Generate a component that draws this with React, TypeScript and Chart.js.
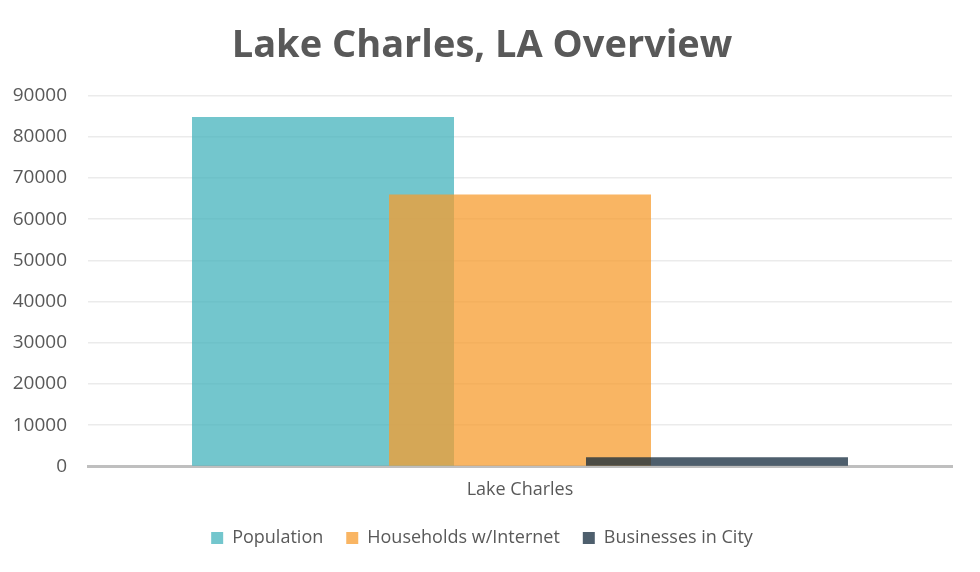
import React, { useEffect, useRef } from "react";
import { Chart, registerables } from "chart.js";

Chart.register(...registerables);

const categories = ["Lake Charles"];
const seriesNames = ["Population", "Households w/Internet", "Businesses in City"];
const population = [84800];
const households = [66000];
const businesses = [2250];
const yTicks = [0, 10000, 20000, 30000, 40000, 50000, 60000, 70000, 80000, 90000];

const FONT = "'Open Sans', 'DejaVu Sans', sans-serif";
const TEXT = "#595959";

const drawOrderPlugin = {
  id: "drawOrder",
  beforeDatasetsDraw(chart: any) {
    const ctx = chart.ctx;
    const a = chart.chartArea;
    ctx.save();
    ctx.beginPath();
    ctx.rect(a.left, a.top - 2, a.right - a.left, a.bottom - a.top + 2);
    ctx.clip();
    const metas = chart.getSortedVisibleDatasetMetas().slice().sort((m1: any, m2: any) => m1.index - m2.index);
    metas.forEach((m: any) => m.controller.draw());
    ctx.restore();
    return false;
  },
};

export default function App() {
  const ref = useRef<HTMLCanvasElement | null>(null);
  useEffect(() => {
    if (!ref.current) return;
    const chart = new Chart(ref.current, {
      type: "bar",
      data: {
        labels: categories,
        datasets: [
          { label: seriesNames[0], data: population, backgroundColor: "rgba(68,179,188,0.75)" },
          { label: seriesNames[1], data: households, backgroundColor: "rgba(247,156,47,0.75)" },
          { label: seriesNames[2], data: businesses, backgroundColor: "rgba(19,42,60,0.75)" },
        ],
      },
      options: {
        animation: false,
        responsive: true,
        maintainAspectRatio: false,
        layout: { padding: { left: 12, right: 28, top: 0, bottom: 15 } },
        datasets: {
          bar: { categoryPercentage: 0.684, barPercentage: 1.33 },
        },
        plugins: {
          title: {
            display: true,
            text: "Lake Charles, LA Overview",
            color: TEXT,
            font: { family: FONT, size: 38, weight: "bold" },
            padding: { top: 23, bottom: 27 },
          },
          legend: {
            position: "bottom",
            labels: {
              color: TEXT,
              font: { family: FONT, size: 18 },
              boxWidth: 12,
              boxHeight: 12,
              padding: 23,
            },
          },
          tooltip: { enabled: false },
        },
        scales: {
          x: {
            grid: { display: false },
            border: { display: true, color: "#BFBFBF", width: 3 },
            ticks: { color: TEXT, font: { family: FONT, size: 18 }, padding: 5 },
          },
          y: {
            min: 0,
            max: 90000,
            afterBuildTicks: (scale: any) => {
              scale.ticks = yTicks.map((v) => ({ value: v }));
            },
            afterFit: (scale: any) => {
              scale.width = 76;
            },
            grid: { color: "#EBEBEB", lineWidth: 1.5, drawTicks: false },
            border: { display: false },
            ticks: {
              color: TEXT,
              font: { family: FONT, size: 19 },
              padding: 21,
              callback: (v: any) => String(v),
            },
          },
        },
      },
      plugins: [drawOrderPlugin],
    });
    return () => chart.destroy();
  }, []);
  return (
    <div style={{ position: "fixed", left: 0, top: 0, width: 980, height: 572, background: "#fff" }}>
      <canvas ref={ref} />
    </div>
  );
}
